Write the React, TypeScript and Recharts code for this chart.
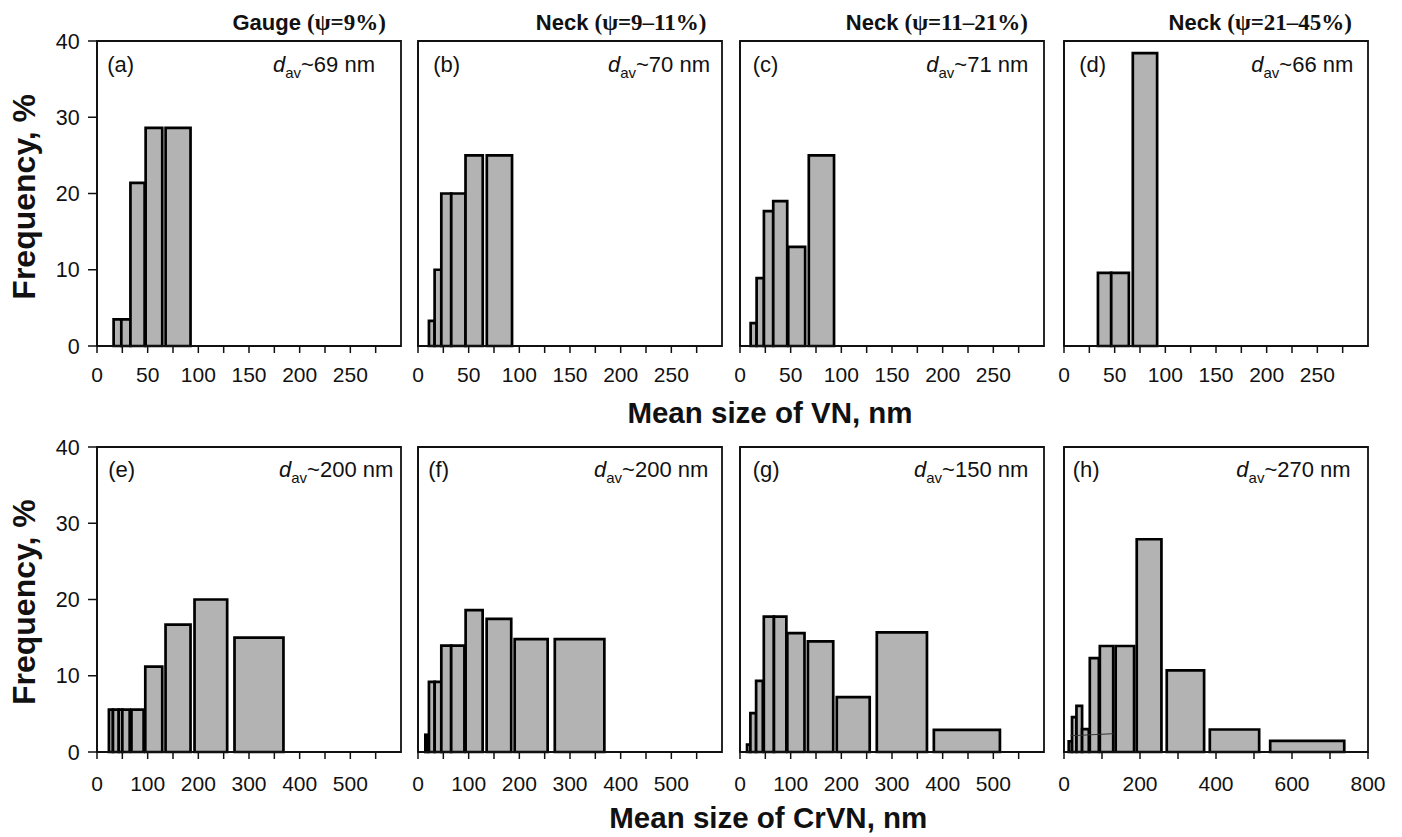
import React from 'react';
import { ComposedChart, XAxis, YAxis, ReferenceArea, ReferenceLine } from 'recharts';

// [lower edge (nm), upper edge (nm), frequency (%)]
type Bin = [number, number, number];

const binsA: Bin[] = [[16.4, 24, 3.5], [24, 33, 3.5], [33, 47, 21.4], [48, 64.4, 28.6], [67.7, 92.3, 28.6]];
const binsB: Bin[] = [[10.8, 16.4, 3.3], [16.4, 23, 10.0], [23, 32.8, 20.0], [32.8, 46.9, 20.0], [46.9, 63.9, 25.0], [67.9, 92.8, 25.0]];
const binsC: Bin[] = [[10.5, 16.4, 3.0], [16.4, 23.6, 8.9], [23.6, 32.8, 17.7], [32.8, 46.6, 19.0], [47.6, 64.3, 13.0], [67.9, 92.8, 25.0]];
const binsD: Bin[] = [[33.5, 46.6, 8.4], [46.6, 64, 8.4], [67.9, 91.9, 33.6]];
const binsE: Bin[] = [[23.5, 31.5, 5.55], [31.5, 43, 5.55], [43, 50, 5.55], [50, 64.5, 5.55], [68, 92, 5.55], [95.3, 128.8, 11.2], [135.3, 184.6, 16.7], [192.5, 256.9, 20.0], [271.4, 368, 15.0]];
const binsF: Bin[] = [[14.5, 19.6, 2.26], [21.6, 32.9, 9.2], [32.9, 46, 9.2], [46, 65.5, 13.95], [65.5, 91.6, 13.95], [94, 127.6, 18.6], [135.5, 184, 17.45], [190.8, 255.9, 14.8], [270, 367.8, 14.8]];
const binsG: Bin[] = [[13.9, 20.5, 0.96], [20.5, 31.8, 5.1], [31.8, 45, 9.33], [47, 67, 17.75], [67, 91.5, 17.75], [93.4, 127.3, 15.6], [134, 184, 14.5], [191, 256, 7.2], [270, 369, 15.7], [382.6, 513, 2.9]];
const binsH: Bin[] = [[12.4, 21.1, 1.4], [21.1, 32.8, 4.58], [32.8, 47.6, 6.06], [47.6, 65.3, 3.0], [67.9, 91.7, 12.3], [94.3, 129.5, 13.9], [136, 184.4, 13.9], [191.4, 256.4, 27.9], [270.4, 368.7, 10.7], [383.7, 513.6, 2.95], [542.6, 737.5, 1.45]];
// thin stray line visible in panel (h): [x, y] endpoints
const strayLineH: [number, number][] = [[16.9, 2.13], [129.5, 2.4]];

const vnTicks = [0, 25, 50, 75, 100, 125, 150, 175, 200, 225, 250, 275];
const vnLabels = [0, 50, 100, 150, 200, 250];
const crvnTicks = [0, 50, 100, 150, 200, 250, 300, 350, 400, 450, 500, 550];
const crvnLabels = [0, 100, 200, 300, 400, 500];
const crvnTicksH = [0, 100, 200, 300, 400, 500, 600, 700, 800];
const crvnLabelsH = [0, 200, 400, 600, 800];
const freqTicks = [0, 10, 20, 30, 40];
const freqTicksD = [0, 10, 20, 30];

const panelLetters = ['(a)', '(b)', '(c)', '(d)', '(e)', '(f)', '(g)', '(h)'];
const davValues = [69, 70, 71, 66, 200, 200, 150, 270];
const colTitleNames = ['Gauge', 'Neck', 'Neck', 'Neck'];
const colTitleStrains = ['(\u03C8=9%)', '(\u03C8=9\u201311%)', '(\u03C8=11\u201321%)', '(\u03C8=21\u201345%)'];
const yTitle = 'Frequency, %';
const xTitleTop = 'Mean size of VN, nm';
const xTitleBottom = 'Mean size of CrVN, nm';

// ---------- layout ----------
const SANS = "'Liberation Sans', Arial, Helvetica, sans-serif";
const SERIF = "'Liberation Serif', 'Times New Roman', serif";
const COL_L = [97.3, 418, 739.5, 1063.5];
const ROW_T = [41.3, 446.7];
const PW = 304;
const PH = 305;
const YW = 60;
const XH = 60;
const MT = 10;
const MR = 34;

type PanelCfg = {
  bins: Bin[];
  xMax: number;
  xTicks: number[];
  xLabels: number[];
  yMax: number;
  yTicks: number[];
  showY: boolean;
  col: number;
  row: number;
  letterX: number;
  davRight: number;
  xLabelDy: number;
  stray?: [number, number][];
};

const panels: PanelCfg[] = [
  { bins: binsA, xMax: 300, xTicks: vnTicks, xLabels: vnLabels, yMax: 40, yTicks: freqTicks, showY: true, col: 0, row: 0, letterX: 107.3, davRight: 375, xLabelDy: 28.7 },
  { bins: binsB, xMax: 300, xTicks: vnTicks, xLabels: vnLabels, yMax: 40, yTicks: freqTicks, showY: false, col: 1, row: 0, letterX: 433.3, davRight: 710, xLabelDy: 28.7 },
  { bins: binsC, xMax: 300, xTicks: vnTicks, xLabels: vnLabels, yMax: 40, yTicks: freqTicks, showY: false, col: 2, row: 0, letterX: 752.7, davRight: 1028.3, xLabelDy: 28.7 },
  { bins: binsD, xMax: 300, xTicks: vnTicks, xLabels: vnLabels, yMax: 35, yTicks: freqTicksD, showY: false, col: 3, row: 0, letterX: 1079.3, davRight: 1353.3, xLabelDy: 28.7 },
  { bins: binsE, xMax: 600, xTicks: crvnTicks, xLabels: crvnLabels, yMax: 40, yTicks: freqTicks, showY: true, col: 0, row: 1, letterX: 108.3, davRight: 393.3, xLabelDy: 32.4 },
  { bins: binsF, xMax: 600, xTicks: crvnTicks, xLabels: crvnLabels, yMax: 40, yTicks: freqTicks, showY: false, col: 1, row: 1, letterX: 428.3, davRight: 708.3, xLabelDy: 32.4 },
  { bins: binsG, xMax: 600, xTicks: crvnTicks, xLabels: crvnLabels, yMax: 40, yTicks: freqTicks, showY: false, col: 2, row: 1, letterX: 752.7, davRight: 1028.3, xLabelDy: 32.4 },
  { bins: binsH, xMax: 800, xTicks: crvnTicksH, xLabels: crvnLabelsH, yMax: 40, yTicks: freqTicks, showY: false, col: 3, row: 1, letterX: 1072.7, davRight: 1350.7, xLabelDy: 32.4, stray: strayLineH },
];

function Panel({ cfg }: { cfg: PanelCfg }) {
  const L = COL_L[cfg.col];
  const T = ROW_T[cfg.row];
  const W = YW + PW + MR;
  const H = MT + PH + XH;
  const rows = cfg.bins.map(([lo, hi, f]) => ({ lo, hi, f }));

  const XTick = (p: any) => {
    const v = p.payload?.value;
    if (!cfg.xLabels.includes(v)) return <g />;
    return (
      <text x={p.x} y={p.y + cfg.xLabelDy} textAnchor="middle" fontSize={21} fontFamily={SANS} fill="#111">
        {v}
      </text>
    );
  };
  const YTick = (p: any) => (
    <text x={p.x - 8.3} y={p.y} dy="0.36em" textAnchor="end" fontSize={21.5} fontFamily={SANS} fill="#111">
      {p.payload?.value}
    </text>
  );

  return (
    <div style={{ position: 'absolute', left: L - YW, top: T - MT, width: W, height: H }}>
      <ComposedChart width={W} height={H} margin={{ top: MT, right: MR, bottom: 0, left: 0 }} data={rows}>
        <XAxis
          type="number"
          dataKey="lo"
          domain={[0, cfg.xMax]}
          ticks={cfg.xTicks}
          interval={0}
          allowDataOverflow
          tick={XTick}
          tickSize={7}
          tickMargin={0}
          height={XH}
          axisLine={{ stroke: '#111', strokeWidth: 1.8 }}
          tickLine={{ stroke: '#111', strokeWidth: 1.5 }}
        />
        <YAxis
          type="number"
          domain={[0, cfg.yMax]}
          ticks={cfg.yTicks}
          interval={0}
          allowDataOverflow
          tick={cfg.showY ? YTick : false}
          tickSize={9}
          tickMargin={0}
          width={YW}
          axisLine={{ stroke: '#111', strokeWidth: 1.8 }}
          tickLine={{ stroke: '#111', strokeWidth: 1.5 }}
        />
        <ReferenceArea x1={0} x2={cfg.xMax} y1={0} y2={cfg.yMax} fill="none" fillOpacity={0} stroke="#111" strokeWidth={1.8} ifOverflow="visible" />
        {cfg.bins.map(([lo, hi, f], i) => (
          <ReferenceArea
            key={i}
            x1={lo}
            x2={hi}
            y1={0}
            y2={f}
            fill="#b3b3b3"
            fillOpacity={1}
            stroke="#000"
            strokeWidth={2.7}
            ifOverflow="visible"
          />
        ))}
        {cfg.stray && (
          <ReferenceLine
            segment={cfg.stray.map(([x, y]) => ({ x, y }))}
            stroke="#333"
            strokeWidth={1}
            ifOverflow="visible"
          />
        )}
      </ComposedChart>
    </div>
  );
}

export default function App() {
  return (
    <div style={{ position: 'absolute', left: 0, top: 0, width: 1402, height: 837, background: '#fff', overflow: 'hidden' }}>
      {panels.map((p, i) => (
        <Panel key={i} cfg={p} />
      ))}
      <svg width={1402} height={837} style={{ position: 'absolute', left: 0, top: 0, pointerEvents: 'none' }}>
        {colTitleNames.map((name, c) => (
          <text key={'ct' + c} x={COL_L[c] + PW - 15.5} y={29.5} textAnchor="end" fill="#111">
            <tspan fontFamily={SANS} fontWeight="bold" fontSize={22}>{name + ' '}</tspan>
            <tspan fontFamily={SERIF} fontWeight="bold" fontSize={23}>{colTitleStrains[c]}</tspan>
          </text>
        ))}
        {panels.map((p, i) => {
          const base = ROW_T[p.row] + 30.5;
          return (
            <g key={'lab' + i}>
              <text x={p.letterX} y={base} fontSize={22} fontFamily={SANS} fill="#111">{panelLetters[i]}</text>
              <text x={p.davRight} y={base} textAnchor="end" fontSize={22} fontFamily={SANS} fill="#111">
                <tspan fontStyle="italic">d</tspan>
                <tspan fontSize={15} dy={6}>av</tspan>
                <tspan dy={-6}>{'~' + davValues[i] + ' nm'}</tspan>
              </text>
            </g>
          );
        })}
        {ROW_T.map((t, r) => {
          const cy = t + PH / 2 + 3;
          return (
            <text key={'yt' + r} x={35} y={cy} transform={`rotate(-90, 35, ${cy})`} textAnchor="middle" fontSize={32} fontWeight="bold" fontFamily={SANS} fill="#111">
              {yTitle}
            </text>
          );
        })}
        <text x={770} y={423} textAnchor="middle" fontSize={29.5} fontWeight="bold" fontFamily={SANS} fill="#111">{xTitleTop}</text>
        <text x={768.3} y={828} textAnchor="middle" fontSize={29.5} fontWeight="bold" fontFamily={SANS} fill="#111">{xTitleBottom}</text>
      </svg>
    </div>
  );
}
